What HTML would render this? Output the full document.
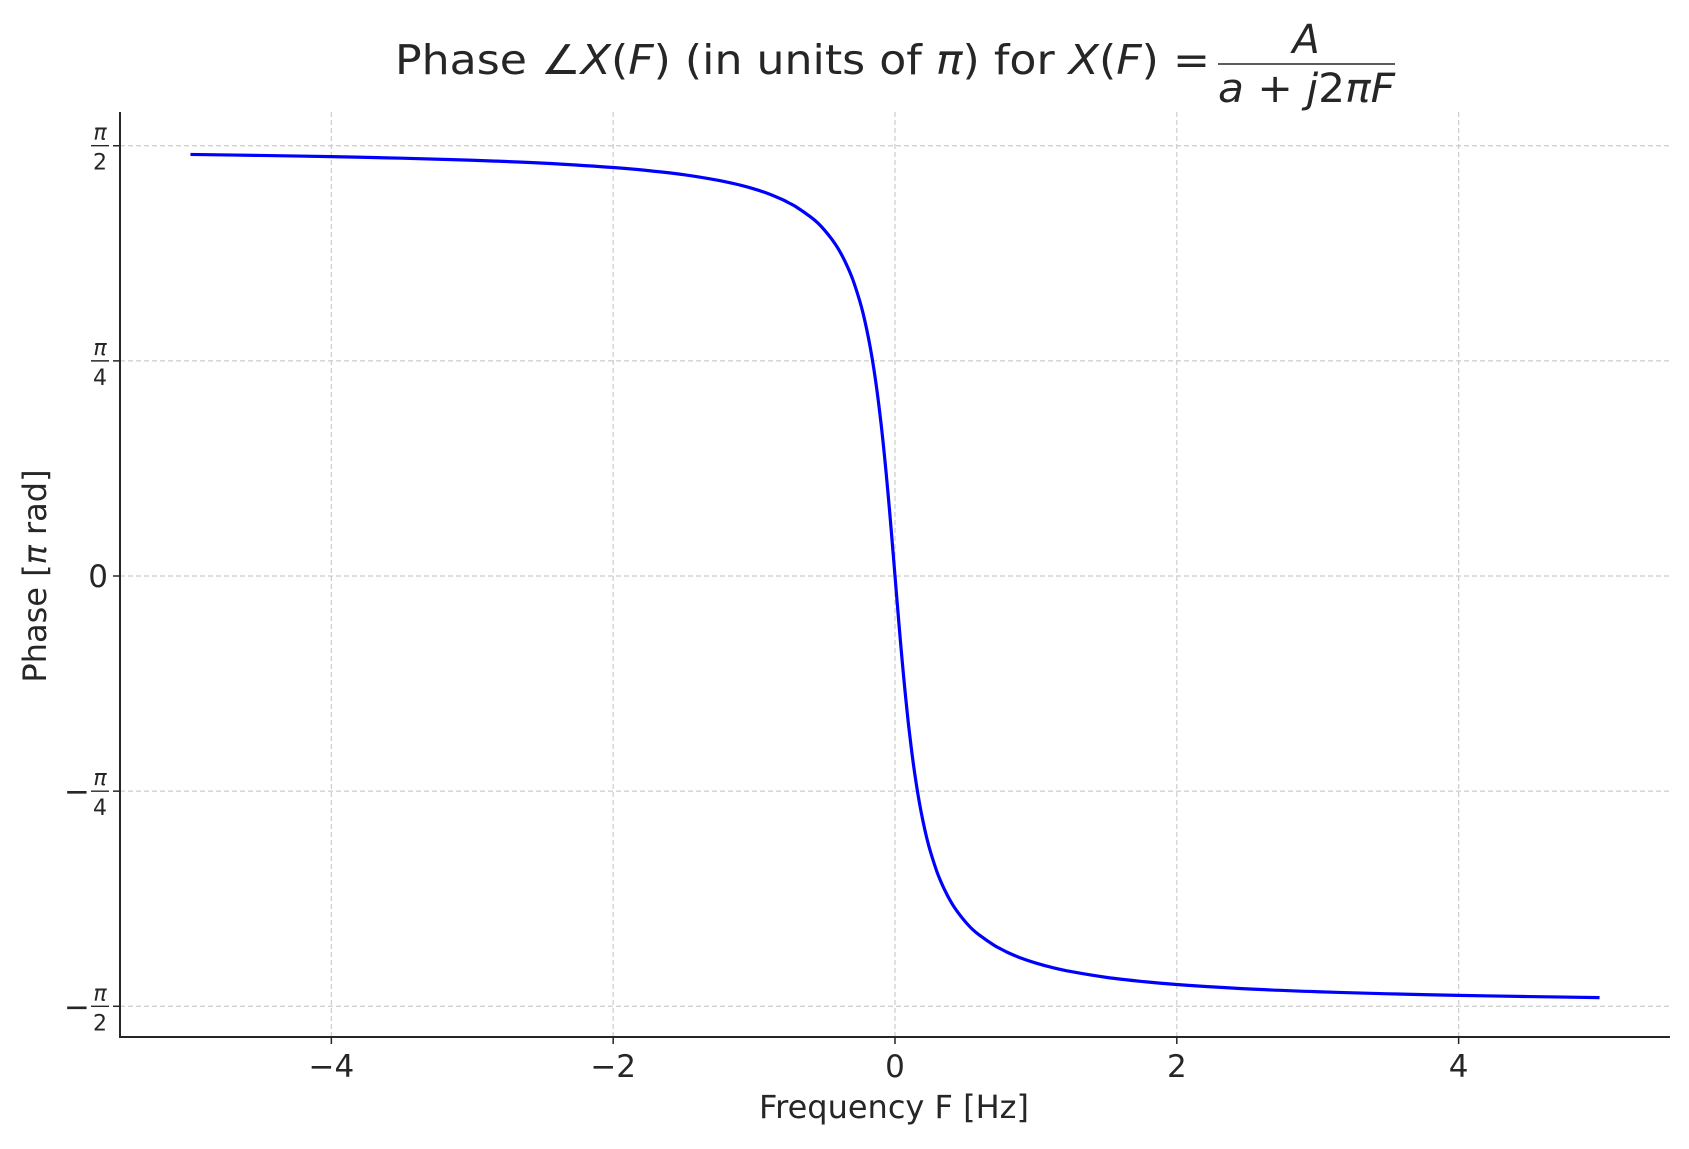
<!DOCTYPE html>
<html><head><meta charset="utf-8"><style>
body{margin:0;background:#fff}
svg text{font-family:"DejaVu Sans","Liberation Sans",sans-serif;fill:#262626}
</style></head><body>
<svg id="chart" width="1689" height="1144" viewBox="0 0 1689 1144">
<g>
<text x="395" y="74" font-size="41" textLength="815" lengthAdjust="spacingAndGlyphs">Phase ∠<tspan font-style="italic">X</tspan>(<tspan font-style="italic">F</tspan>) (in units of <tspan font-style="italic">π</tspan>) for <tspan font-style="italic">X</tspan>(<tspan font-style="italic">F</tspan>) =</text>
<text x="1306" y="53" font-size="40" font-style="italic" text-anchor="middle">A</text>
<line x1="1218" x2="1395" y1="64" y2="64" stroke="#262626" stroke-width="1.6"/>
<text x="1218" y="102" font-size="40" textLength="177" lengthAdjust="spacingAndGlyphs"><tspan font-style="italic">a</tspan> + <tspan font-style="italic">j</tspan>2<tspan font-style="italic">πF</tspan></text>
</g>
<g id="grid"></g>
<g id="axes"></g>
<path id="curve" fill="none" stroke="#0000ff" stroke-width="3.2" stroke-linejoin="round"/>
<text x="894" y="1118" font-size="32" text-anchor="middle">Frequency F [Hz]</text>
<text transform="translate(46,576) rotate(-90)" font-size="32" text-anchor="middle">Phase [<tspan font-style="italic">π</tspan> rad]</text>
</svg>
<script>
const freqs = [-5,-4.5,-4,-3.5,-3,-2.5,-2,-1.75,-1.5,-1.25,-1.1,-1,-0.9,-0.8,-0.75,-0.7,-0.6,-0.55,-0.5,-0.45,-0.4,-0.35,-0.3,-0.25,-0.225,-0.2,-0.175,-0.15,-0.125,-0.1,-0.0875,-0.075,-0.0625,-0.05,-0.0375,-0.025,-0.0125,0,0.0125,0.025,0.0375,0.05,0.0625,0.075,0.0875,0.1,0.125,0.15,0.175,0.2,0.225,0.25,0.3,0.35,0.4,0.45,0.5,0.55,0.6,0.7,0.75,0.8,0.9,1,1.1,1.25,1.5,1.75,2,2.5,3,3.5,4,4.5,5];
const phases = [0.4899,0.4887,0.4873,0.4855,0.4831,0.4798,0.4747,0.4711,0.4664,0.4597,0.4543,0.4498,0.4444,0.4375,0.4333,0.4288,0.4174,0.4106,0.4019,0.3917,0.3795,0.3639,0.3447,0.3195,0.3041,0.2860,0.2651,0.2406,0.2119,0.1786,0.1600,0.1402,0.1191,0.0969,0.0737,0.0496,0.0250,0,-0.0250,-0.0496,-0.0737,-0.0969,-0.1191,-0.1402,-0.1600,-0.1786,-0.2119,-0.2406,-0.2651,-0.2860,-0.3041,-0.3195,-0.3447,-0.3639,-0.3795,-0.3917,-0.4019,-0.4106,-0.4174,-0.4288,-0.4333,-0.4375,-0.4444,-0.4498,-0.4543,-0.4597,-0.4664,-0.4711,-0.4747,-0.4798,-0.4831,-0.4855,-0.4873,-0.4887,-0.4899];
const xTicks = [-4,-2,0,2,4];
const xTickLabels = ["−4","−2","0","2","4"];
const yTicks = [0.5,0.25,0,-0.25,-0.5];
const yTickLabels = ["π/2","π/4","0","−π/4","−π/2"];

const L=120,R=1670,T=112,B=1037;
const xMin=-5.5,xMax=5.5,yMin=-0.5357,yMax=0.5392;
const xs=v=>L+(v-xMin)/(xMax-xMin)*(R-L);
const ys=v=>B-(v-yMin)/(yMax-yMin)*(B-T);
const NS="http://www.w3.org/2000/svg";
function mk(tag,attrs,parent){const e=document.createElementNS(NS,tag);for(const k in attrs)e.setAttribute(k,attrs[k]);parent.appendChild(e);return e;}
const grid=document.getElementById('grid'),axes=document.getElementById('axes');
xTicks.forEach((t,i)=>{
  const g=mk('line',{x1:xs(t),x2:xs(t),y1:T,y2:B,stroke:'#cccccc','stroke-width':1.2,'stroke-dasharray':'5,3'},grid);
  
  
  const tk=mk('line',{x1:xs(t),x2:xs(t),y1:B,y2:B+7,stroke:'#262626','stroke-width':1.5},axes);
  
  
  const tx=mk('text',{x:xs(t),y:B+40,'font-size':31,'text-anchor':'middle'},axes);
  tx.textContent=xTickLabels[i];
  
  
});
yTicks.forEach((t,i)=>{
  const y=ys(t);
  const g=mk('line',{x1:L,x2:R,y1:y,y2:y,stroke:'#cccccc','stroke-width':1.2,'stroke-dasharray':'5,3'},grid);
  
  
  const tk=mk('line',{x1:L-7,x2:L,y1:y,y2:y,stroke:'#262626','stroke-width':1.5},axes);
  
  
  const lab=yTickLabels[i];
  const grp=mk('g',{},axes);
  
  
  if(lab==="0"){
    const tx=mk('text',{x:L-12,y:y+11,'font-size':31,'text-anchor':'end'},grp);tx.textContent="0";
  } else {
    const neg=lab[0]==="−";const den=lab.slice(-1);
    const cx=L-20;
    const n=mk('text',{x:cx,y:y-6,'font-size':22,'text-anchor':'middle','font-style':'italic'},grp);n.textContent="π";
    mk('line',{x1:cx-9,x2:cx+9,y1:y,y2:y,stroke:'#262626','stroke-width':1.4},grp);
    const d=mk('text',{x:cx,y:y+24,'font-size':22,'text-anchor':'middle'},grp);d.textContent=den;
    if(neg){const m=mk('text',{x:cx-10,y:y+11,'font-size':31,'text-anchor':'end'},grp);m.textContent="−";}
  }
});
const sp1=mk('line',{x1:L,x2:L,y1:T,y2:B+1,stroke:'#262626','stroke-width':2},axes);


const sp2=mk('line',{x1:L-1,x2:R,y1:B,y2:B,stroke:'#262626','stroke-width':2},axes);


const P=freqs.map((f,i)=>[xs(f),ys(phases[i])]);
let d='M'+P[0][0].toFixed(2)+','+P[0][1].toFixed(2);
for(let i=0;i<P.length-1;i++){
  const p0=P[Math.max(0,i-1)],p1=P[i],p2=P[i+1],p3=P[Math.min(P.length-1,i+2)];
  const c1=[p1[0]+(p2[0]-p0[0])/6,p1[1]+(p2[1]-p0[1])/6];
  const c2=[p2[0]-(p3[0]-p1[0])/6,p2[1]-(p3[1]-p1[1])/6];
  d+='C'+c1[0].toFixed(2)+','+c1[1].toFixed(2)+' '+c2[0].toFixed(2)+','+c2[1].toFixed(2)+' '+p2[0].toFixed(2)+','+p2[1].toFixed(2);
}
document.getElementById('curve').setAttribute('d',d);
</script>
</body></html>
